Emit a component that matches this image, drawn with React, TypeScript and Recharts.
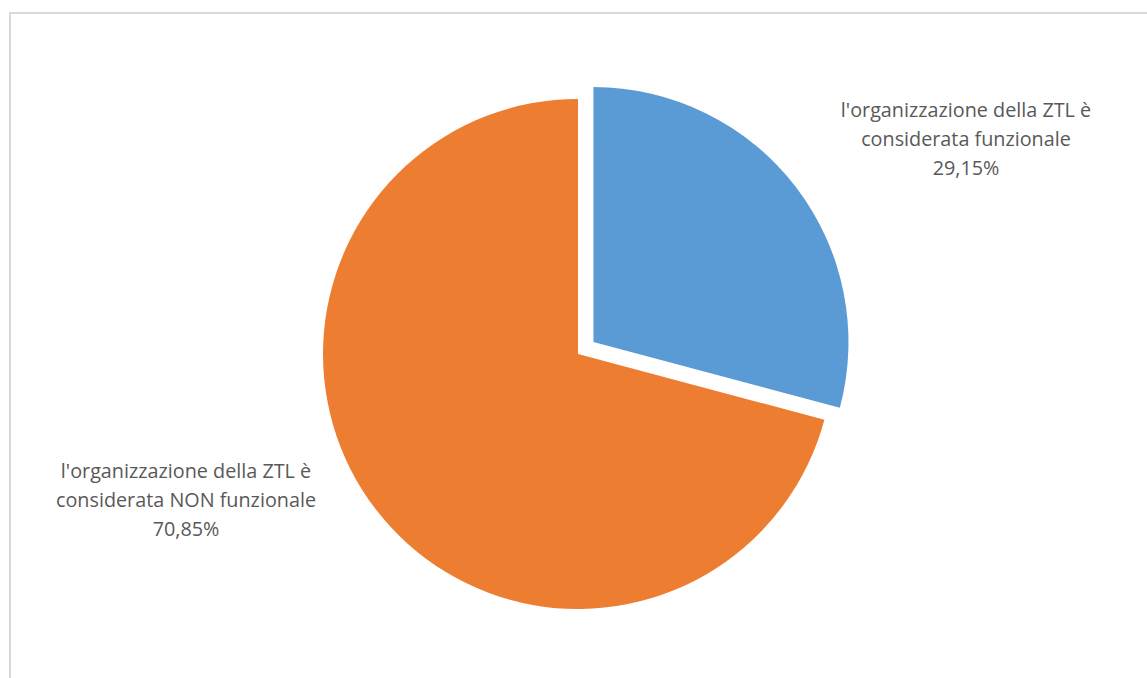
import { PieChart, Pie, Cell } from 'recharts';

const categories = [
  "l'organizzazione della ZTL è considerata funzionale",
  "l'organizzazione della ZTL è considerata NON funzionale",
];
const labelLines = [
  ["l'organizzazione della ZTL è", 'considerata funzionale'],
  ["l'organizzazione della ZTL è", 'considerata NON funzionale'],
];
const values = [29.15, 70.85];
const valueLabels = ['29,15%', '70,85%'];

const COLORS = ['#5B9BD5', '#ED7D31'];
const TEXT = '#595959';
const FONT = '"Open Sans", Lato, sans-serif';

const CX = 578;
const CY = 354;
const R = 255;
const EXPLODE = 19.5;

// label anchor offsets from pie centre (first baseline), Excel puts them by hand
const LABEL_POS = [
  { dx: 388, dy: -237 },
  { dx: -392, dy: 124 },
];

const data = categories.map((name, i) => ({ name, value: values[i] }));

export default function App() {
  const total = values.reduce((a, b) => a + b, 0);
  const midDeg = 90 - (values[0] / total) * 180;
  const ox = EXPLODE * Math.cos((midDeg * Math.PI) / 180);
  const oy = -EXPLODE * Math.sin((midDeg * Math.PI) / 180);

  const renderLabel = (entry: any) => {
    const i = entry.index;
    const pos = LABEL_POS[i];
    const x = CX + pos.dx;
    const y = CY + pos.dy;
    const lines = [...labelLines[i], valueLabels[i]];
    return (
      <text
        key={`lbl-${i}`}
        x={x}
        y={y}
        textAnchor="middle"
        fill={TEXT}
        fontFamily={FONT}
        fontSize={19.8}
      >
        {lines.map((l, k) => (
          <tspan key={k} x={x} dy={k === 0 ? 0 : 29}>
            {l}
          </tspan>
        ))}
      </text>
    );
  };

  return (
    <div
      style={{
        position: 'fixed',
        left: 0,
        top: 0,
        width: 1147,
        height: 678,
        overflow: 'hidden',
        background: '#ffffff',
      }}
    >
      <div
        style={{
          position: 'absolute',
          left: 9,
          top: 12,
          width: 1160,
          height: 700,
          borderLeft: '2px solid #d9d9d9',
          borderTop: '2px solid #d9d9d9',
        }}
      />
      <div style={{ position: 'absolute', left: 0, top: 0 }}>
        <PieChart width={1147} height={678} margin={{ top: 0, right: 0, bottom: 0, left: 0 }}>
          <Pie
            data={data}
            dataKey="value"
            cx={CX}
            cy={CY}
            outerRadius={R}
            startAngle={90}
            endAngle={-270}
            stroke="none"
            label={renderLabel}
            labelLine={false}
            isAnimationActive={false}
          >
            {data.map((entry, index) => (
              <Cell key={`base-${index}`} fill={index === 1 ? COLORS[1] : 'none'} />
            ))}
          </Pie>
          <Pie
            data={data}
            dataKey="value"
            cx={CX + ox}
            cy={CY + oy}
            outerRadius={R}
            startAngle={90}
            endAngle={-270}
            stroke="none"
            labelLine={false}
            isAnimationActive={false}
          >
            {data.map((entry, index) => (
              <Cell key={`exp-${index}`} fill={index === 0 ? COLORS[0] : 'none'} />
            ))}
          </Pie>
        </PieChart>
      </div>
    </div>
  );
}
